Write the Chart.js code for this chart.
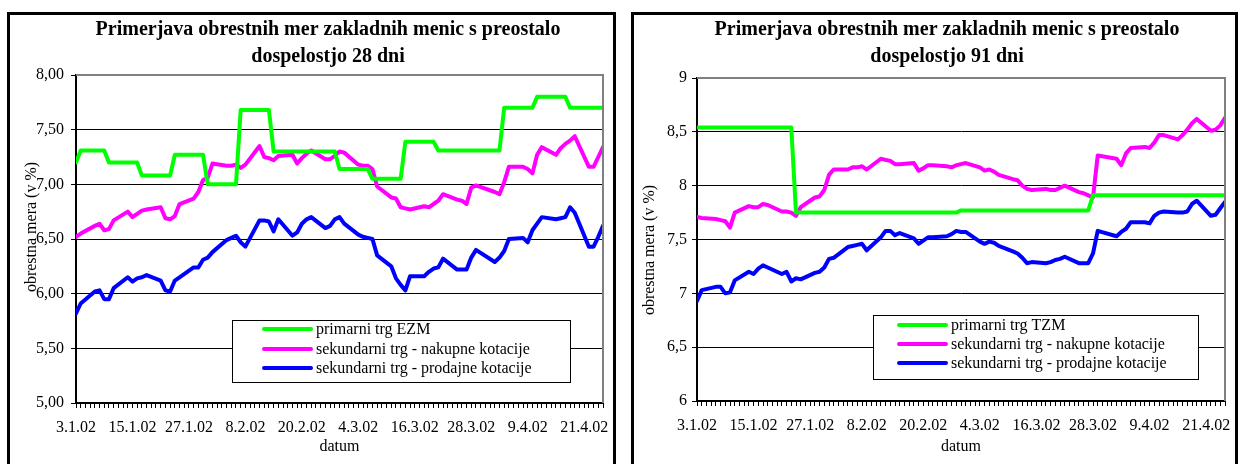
<!DOCTYPE html>
<html>
<head>
<meta charset="utf-8">
<script src="https://cdn.jsdelivr.net/npm/chart.js@4.4.0/dist/chart.umd.min.js"></script>
<style>
  html, body { margin: 0; padding: 0; background: #fff; width: 1242px; height: 464px; overflow: hidden; }
  .frame { position: absolute; top: 12px; height: 470px; border: 3px solid #000; background: #fff; }
  #f1 { left: 7px; width: 603px; }
  #f2 { left: 631px; width: 601px; }
  canvas { display: block; }
</style>
</head>
<body>
<div class="frame" id="f1"><canvas id="c1" width="603" height="460"></canvas></div>
<div class="frame" id="f2"><canvas id="c2" width="601" height="460"></canvas></div>
<script>
// Trading days, 3 Jan 2002 – 25 Apr 2002
const tradingDays = [
  '3.1.02','4.1.02','7.1.02','8.1.02','9.1.02','10.1.02','11.1.02','14.1.02','15.1.02','16.1.02','17.1.02','18.1.02',
  '21.1.02','22.1.02','23.1.02','24.1.02','25.1.02','28.1.02','29.1.02','30.1.02','31.1.02',
  '1.2.02','4.2.02','5.2.02','6.2.02','7.2.02','8.2.02','11.2.02','12.2.02','13.2.02','14.2.02','15.2.02',
  '18.2.02','19.2.02','20.2.02','21.2.02','22.2.02','25.2.02','26.2.02','27.2.02','28.2.02',
  '1.3.02','4.3.02','5.3.02','6.3.02','7.3.02','8.3.02','11.3.02','12.3.02','13.3.02','14.3.02','15.3.02',
  '18.3.02','19.3.02','20.3.02','21.3.02','22.3.02','25.3.02','26.3.02','27.3.02','28.3.02','29.3.02',
  '2.4.02','3.4.02','4.4.02','5.4.02','8.4.02','9.4.02','10.4.02','11.4.02','12.4.02',
  '15.4.02','16.4.02','17.4.02','18.4.02','19.4.02','22.4.02','23.4.02','24.4.02','25.4.02'
];

// Date-axis labels (every 12 days) and value-axis labels
const xTickLabels = ['3.1.02','15.1.02','27.1.02','8.2.02','20.2.02','4.3.02','16.3.02','28.3.02','9.4.02','21.4.02'];
const yTickLabels28 = ['5,00','5,50','6,00','6,50','7,00','7,50','8,00'];
const yTickLabels91 = ['6','6,5','7','7,5','8','8,5','9'];

// 28-day bills
const primary28 = [
  7.20,7.31,7.31,7.31,7.31,7.20,7.20,7.20,7.20,7.20,7.08,7.08,7.08,7.08,7.08,7.27,7.27,7.27,7.27,7.27,7.00,
  7.00,7.00,7.00,7.00,7.68,7.68,7.68,7.68,7.68,7.30,7.30,7.30,7.30,7.30,7.30,7.30,7.30,7.30,7.30,7.14,
  7.14,7.14,7.14,7.14,7.05,7.05,7.05,7.05,7.05,7.39,7.39,7.39,7.39,7.39,7.31,7.31,7.31,7.31,7.31,7.31,7.31,
  7.31,7.31,7.70,7.70,7.70,7.70,7.70,7.80,7.80,7.80,7.80,7.80,7.70,7.70,7.70,7.70,7.70,7.70
];
const bid28 = [
  6.52,6.55,6.62,6.64,6.58,6.59,6.67,6.75,6.70,6.73,6.76,6.77,6.79,6.69,6.68,6.71,6.82,6.87,6.93,7.04,7.06,
  7.19,7.17,7.17,7.18,7.15,7.18,7.35,7.25,7.24,7.22,7.26,7.27,7.19,7.24,7.28,7.31,7.23,7.23,7.26,7.30,
  7.29,7.18,7.17,7.17,7.14,6.98,6.88,6.87,6.79,6.78,6.77,6.80,6.79,6.82,6.85,6.91,6.86,6.85,6.82,6.97,6.99,
  6.93,6.91,7.02,7.16,7.16,7.14,7.10,7.27,7.34,7.27,7.33,7.37,7.40,7.44,7.16,7.16,7.25,7.34
];
const ask28 = [
  5.82,5.91,6.02,6.03,5.95,5.95,6.05,6.15,6.11,6.14,6.15,6.17,6.12,6.03,6.02,6.12,6.15,6.24,6.24,6.31,6.33,
  6.38,6.49,6.51,6.53,6.47,6.43,6.67,6.67,6.66,6.57,6.68,6.53,6.56,6.64,6.68,6.70,6.60,6.62,6.68,6.70,
  6.64,6.54,6.52,6.51,6.50,6.35,6.25,6.14,6.08,6.03,6.16,6.16,6.20,6.23,6.24,6.32,6.22,6.22,6.22,6.33,6.40,
  6.29,6.33,6.39,6.50,6.51,6.47,6.58,6.64,6.70,6.68,6.69,6.70,6.79,6.74,6.43,6.43,6.52,6.62
];

// 91-day bills
const primary91 = [
  8.54,8.54,8.54,8.54,8.54,8.54,8.54,8.54,8.54,8.54,8.54,8.54,8.54,8.54,8.54,7.75,7.75,7.75,7.75,7.75,7.75,
  7.75,7.75,7.75,7.75,7.75,7.75,7.75,7.75,7.75,7.75,7.75,7.75,7.75,7.75,7.75,7.75,7.75,7.75,7.75,7.77,
  7.77,7.77,7.77,7.77,7.77,7.77,7.77,7.77,7.77,7.77,7.77,7.77,7.77,7.77,7.77,7.77,7.77,7.77,7.77,7.91,7.91,
  7.91,7.91,7.91,7.91,7.91,7.91,7.91,7.91,7.91,7.91,7.91,7.91,7.91,7.91,7.91,7.91,7.91,7.91
];
const bid91 = [
  7.71,7.70,7.69,7.68,7.67,7.61,7.75,7.81,7.80,7.80,7.83,7.82,7.76,7.76,7.75,7.72,7.80,7.89,7.90,7.96,8.10,
  8.15,8.15,8.17,8.17,8.18,8.15,8.25,8.24,8.23,8.20,8.20,8.21,8.14,8.16,8.19,8.19,8.18,8.17,8.19,8.20,
  8.21,8.17,8.14,8.15,8.13,8.10,8.06,8.05,8.00,7.97,7.96,7.97,7.96,7.96,7.98,8.00,7.94,7.93,7.91,7.89,8.28,
  8.25,8.19,8.30,8.35,8.36,8.35,8.40,8.47,8.47,8.43,8.47,8.52,8.58,8.62,8.51,8.52,8.56,8.63
];
const ask91 = [
  6.93,7.03,7.06,7.06,7.00,7.01,7.12,7.20,7.18,7.23,7.26,7.24,7.18,7.20,7.11,7.14,7.13,7.19,7.20,7.24,7.32,
  7.33,7.43,7.44,7.45,7.46,7.40,7.52,7.58,7.58,7.54,7.56,7.51,7.46,7.49,7.52,7.52,7.53,7.55,7.58,7.57,
  7.57,7.48,7.46,7.48,7.47,7.44,7.39,7.37,7.33,7.28,7.29,7.28,7.29,7.31,7.32,7.34,7.28,7.28,7.28,7.37,7.58,
  7.53,7.57,7.60,7.66,7.66,7.65,7.72,7.75,7.76,7.75,7.75,7.76,7.83,7.86,7.72,7.73,7.79,7.85
];

const seriesNames28 = ['primarni trg EZM', 'sekundarni trg - nakupne kotacije', 'sekundarni trg - prodajne kotacije'];
const seriesNames91 = ['primarni trg TZM', 'sekundarni trg - nakupne kotacije', 'sekundarni trg - prodajne kotacije'];
const seriesColors = ['#00ff00', '#ff00ff', '#0000ff'];

// days elapsed since the first trading day
function dayOffset(s) {
  const [d, m, y] = s.split('.').map(Number);
  return Math.round((Date.UTC(2000 + y, m - 1, d) - Date.UTC(2002, 0, 3)) / 86400000);
}
const dayIndex = tradingDays.map(dayOffset);
const toPoints = vals => vals.map((v, i) => ({ x: dayIndex[i], y: v }));

const FONT = '"Liberation Serif", "Times New Roman", serif';

function decorations(cfg) {
  return {
    id: 'decorations',
    afterDraw(chart) {
      const ctx = chart.ctx, a = chart.chartArea;
      ctx.save();
      // grey plot-area frame (top and right)
      ctx.strokeStyle = '#808080';
      ctx.lineWidth = 2;
      ctx.beginPath();
      ctx.moveTo(a.left, a.top);
      ctx.lineTo(a.right, a.top);
      ctx.lineTo(a.right, a.bottom);
      ctx.stroke();

      // title
      ctx.fillStyle = '#000';
      ctx.textAlign = 'center';
      ctx.textBaseline = 'alphabetic';
      ctx.font = 'bold 20px ' + FONT;
      cfg.title.forEach((t, i) => ctx.fillText(t, cfg.titleX, cfg.titleY[i]));

      // axis titles
      ctx.font = '16px ' + FONT;
      ctx.textBaseline = 'middle';
      ctx.fillText('datum', (a.left + a.right) / 2, cfg.xTitleY);
      ctx.save();
      ctx.translate(cfg.yTitleX, cfg.yTitleY);
      ctx.rotate(-Math.PI / 2);
      ctx.fillText('obrestna mera (v %)', 0, 0);
      ctx.restore();

      // legend box
      const L = cfg.legend;
      ctx.fillStyle = '#fff';
      ctx.fillRect(L.x, L.y, L.w, L.h);
      ctx.strokeStyle = '#000';
      ctx.lineWidth = 1;
      ctx.strokeRect(L.x + 0.5, L.y + 0.5, L.w, L.h);
      ctx.textAlign = 'left';
      chart.data.datasets.forEach((ds, i) => {
        const y = L.rowY[i];
        ctx.strokeStyle = ds.borderColor;
        ctx.lineWidth = 4;
        ctx.lineCap = 'round';
        ctx.beginPath();
        ctx.moveTo(L.lx0, y);
        ctx.lineTo(L.lx1, y);
        ctx.stroke();
        ctx.fillStyle = '#000';
        ctx.fillText(ds.label, L.tx, y + 1);
      });
      ctx.restore();
    }
  };
}

function makeChart(id, o) {
  const datasets = o.series.map((vals, i) => ({
    label: o.names[i],
    data: toPoints(vals),
    borderColor: seriesColors[i],
    backgroundColor: seriesColors[i],
    borderWidth: 4,
    pointRadius: 0,
    tension: 0,
    borderJoinStyle: 'round',
    borderCapStyle: 'round',
    fill: false
  }));
  return new Chart(document.getElementById(id), {
    type: 'line',
    data: { datasets },
    options: {
      responsive: false,
      animation: false,
      devicePixelRatio: 1,
      layout: { padding: { left: 0, top: o.top, right: o.right, bottom: 0 } },
      plugins: { legend: { display: false }, title: { display: false }, tooltip: { enabled: false } },
      scales: {
        x: {
          type: 'linear',
          min: 0,
          max: 112,
          afterFit: s => { s.height = o.xHeight; },
          grid: { drawOnChartArea: false, drawTicks: true, tickLength: 5, color: '#000', lineWidth: 1 },
          border: { display: true, color: '#000', width: 2 },
          ticks: {
            stepSize: 1,
            autoSkip: false,
            maxTicksLimit: 500,
            maxRotation: 0,
            padding: 10,
            color: '#000',
            font: { family: FONT, size: 16 },
            callback: v => {
              const k = Math.round(v);
              return k % 12 === 0 && xTickLabels[k / 12] ? xTickLabels[k / 12] : '';
            }
          }
        },
        y: {
          min: o.yMin,
          max: o.yMax,
          afterFit: s => { s.width = o.yWidth; },
          grid: { drawOnChartArea: true, drawTicks: true, tickLength: 5, color: '#000', lineWidth: 1 },
          border: { display: true, color: '#000', width: 2 },
          ticks: {
            stepSize: 0.5,
            padding: o.yPad,
            color: '#000',
            font: { family: FONT, size: 16 },
            callback: v => o.yLabels[Math.round((v - o.yMin) / 0.5)]
          }
        }
      }
    },
    plugins: [decorations(o.deco)]
  });
}

makeChart('c1', {
  series: [primary28, bid28, ask28],
  names: seriesNames28,
  yMin: 5, yMax: 8, yLabels: yTickLabels28,
  top: 60, right: 4, yWidth: 66, xHeight: 72, yPad: 7,
  deco: {
    title: ['Primerjava obrestnih mer zakladnih menic s preostalo', 'dospelostjo 28 dni'],
    titleX: 318, titleY: [20, 47],
    xTitleY: 432,
    yTitleX: 22, yTitleY: 212,
    legend: { x: 222, y: 305, w: 338, h: 62, rowY: [314, 334, 353], lx0: 254, lx1: 301, tx: 306 }
  }
});

makeChart('c2', {
  series: [primary91, bid91, ask91],
  names: seriesNames91,
  yMin: 6, yMax: 9, yLabels: yTickLabels91,
  top: 63, right: 2, yWidth: 63, xHeight: 74, yPad: 5,
  deco: {
    title: ['Primerjava obrestnih mer zakladnih menic s preostalo', 'dospelostjo 91 dni'],
    titleX: 313, titleY: [20, 47],
    xTitleY: 432,
    yTitleX: 16, yTitleY: 235,
    legend: { x: 239, y: 300, w: 325, h: 64, rowY: [310, 329, 348], lx0: 265, lx1: 312, tx: 317 }
  }
});
</script>
</body>
</html>
